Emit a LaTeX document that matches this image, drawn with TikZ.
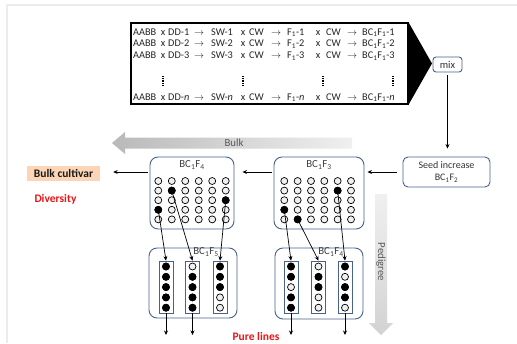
\documentclass[tikz,border=0pt]{standalone}
\usepackage{fontspec}
\setmainfont{Carlito}
\usetikzlibrary{arrows.meta}
\definecolor{boxc}{RGB}{72,98,138}
\definecolor{peach}{RGB}{251,213,181}
\definecolor{myred}{RGB}{232,22,22}
\tikzset{
  tt/.style={font=\fontsize{10.3}{12}\selectfont, inner sep=0pt, text=black!85},
  rbox/.style={draw=boxc, line width=0.9pt, rounded corners=8pt, fill=white, inner sep=0pt},
  oc/.style={circle, draw=black, fill=gray!12, line width=0.7pt, minimum size=7pt, inner sep=0pt},
  fc/.style={circle, draw=black, fill=black, line width=0.7pt, minimum size=7pt, inner sep=0pt},
  colbox/.style={draw=boxc, line width=0.8pt, fill=white, minimum width=14pt, minimum height=52pt, inner sep=0pt},
  arr/.style={-{Stealth[length=4.5pt,width=4pt]}, line width=0.7pt},
  lbl/.style={font=\fontsize{10.8}{12}\selectfont, text=black!75, inner sep=0pt},
  big/.style={font=\bfseries\fontsize{11.5}{13}\selectfont, inner sep=0pt},
  vdots/.style={line width=1.3pt, dash pattern=on 0.9pt off 0.9pt},
}
\begin{document}
\begin{tikzpicture}[x=1pt,y=-1pt]
\useasboundingbox (0,0) rectangle (517,343);
\fill[white] (0,0) rectangle (517,343);
\draw[gray!15, line width=2pt] (6.5,343) -- (6.5,4.5) -- (517,4.5);

% shaded arrows
\shade[left color=gray!55, right color=gray!12] (352,137.5) -- (125,137.5) -- (125,132) -- (112,143) -- (125,154) -- (125,148.5) -- (352,148.5) -- cycle;
\node[lbl, text=black!65] (bulk) at (234,143) {Bulk};
\shade[top color=gray!12, bottom color=gray!35] (375,194) -- (387,194) -- (387,323) -- (393,323) -- (381,335) -- (369,323) -- (375,323) -- cycle;
\node[lbl, text=black!65, rotate=-90] (ped) at (381,262) {Pedigree};

% top box
\node[draw, line width=1.2pt, minimum width=277pt, minimum height=81pt, inner sep=0pt] (top) at (269.5,63.5) {};
\fill (top.north east) -- (432,63.5) -- (top.south east) -- cycle;
\foreach \r/\yy/\s in {1/35/1, 2/46.8/2, 3/58.6/3, n/100/{\textit{n}}}{
  \node[tt, anchor=base west] (r\r a) at (133,\yy) {AABB};
  \node[tt, anchor=base] (r\r b) at (163,\yy) {x};
  \node[tt, anchor=base west] (r\r c) at (168,\yy) {DD-\s};
  \node[tt, anchor=base] (r\r d) at (199,\yy) {$\rightarrow$};
  \node[tt, anchor=base west] (r\r e) at (211,\yy) {SW-\s};
  \node[tt, anchor=base] (r\r f) at (243,\yy) {x};
  \node[tt, anchor=base west] (r\r g) at (249,\yy) {CW};
  \node[tt, anchor=base] (r\r h) at (276,\yy) {$\rightarrow$};
  \node[tt, anchor=base west] (r\r i) at (287,\yy) {F\textsubscript{1}-\s};
  \node[tt, anchor=base] (r\r j) at (318,\yy) {x};
  \node[tt, anchor=base west] (r\r k) at (326,\yy) {CW};
  \node[tt, anchor=base] (r\r l) at (352,\yy) {$\rightarrow$};
  \node[tt, anchor=base west] (r\r m) at (362,\yy) {BC\textsubscript{1}F\textsubscript{1}-\s};
}
\foreach \xx in {163,243,323,393}{
  \draw[vdots] (\xx,76) -- (\xx,86);
}

% mix and seed
\node[rbox, rounded corners=3pt, minimum width=29pt, minimum height=15pt, font=\fontsize{10.5}{12}\selectfont, text=black!80] (mix) at (447.5,64.5) {mix};
\node[rbox, rounded corners=5pt, minimum width=87pt, minimum height=30pt, align=center, font=\fontsize{10}{12.5}\selectfont, text=black!80] (seed) at (446.5,172) {Seed increase\\BC\textsubscript{1}F\textsubscript{2}};
\draw[arr, shorten <=3pt, shorten >=8pt] (mix.south) -- (mix.south |- seed.north);

% generation boxes
\node[rbox, minimum width=90pt, minimum height=72pt] (f3) at (319,193) {};
\node[rbox, minimum width=84pt, minimum height=72pt] (f4) at (192,193) {};
\node[lbl] (f3t) at (319,165) {BC\textsubscript{1}F\textsubscript{3}};
\node[lbl] (f4t) at (192,165) {BC\textsubscript{1}F\textsubscript{4}};
\node[rbox, minimum width=88pt, minimum height=70pt] (b5) at (193,283) {};
\node[rbox, minimum width=88pt, minimum height=71pt] (b4) at (319,283.5) {};
\node[lbl] (b5t) at (206,252) {BC\textsubscript{1}F\textsubscript{5}};
\node[lbl] (b4t) at (331,252) {BC\textsubscript{1}F\textsubscript{4}};

% side labels
\node[fill=peach, minimum width=73pt, minimum height=15pt, big, text=black!90] (bc) at (63.5,173.5) {Bulk cultivar};
\node[big, text=myred] (div) at (55.5,199) {Diversity};
\node[big, text=myred] (pure) at (256,337) {Pure lines};

% horizontal arrows
\draw[arr, shorten <=6pt, shorten >=3pt] (seed.west) -- (seed.west -| f3.east);
\draw[arr, shorten <=2pt, shorten >=8pt] (f3.west |- seed.west) -- (f4.east |- seed.west);
\draw[arr, shorten <=2pt, shorten >=13pt] (f4.west |- seed.west) -- (bc.east |- seed.west);

% grids
\foreach \i in {0,...,5}{
  \foreach \j in {0,...,4}{
    \node[oc] (pa\i\j) at (158.3+13.48*\i, 181+9.6*\j) {};
    \node[oc] (pb\i\j) at (284.3+13.34*\i, 181+9.6*\j) {};
  }
}
\foreach \i/\j in {1/1,5/2,0/3}{ \node[fc] (qa\i\j) at (pa\i\j) {}; }
\foreach \i/\j in {4/1,0/3,1/4}{ \node[fc] (qb\i\j) at (pb\i\j) {}; }

% column boxes
\foreach \c/\xx in {1/166,2/192.5,3/220}{
  \node[colbox] (cl\c) at (\xx,287) {};
  \foreach \k in {0,...,4}{ \node[oc] (cl\c-\k) at (\xx,266.5+10.3*\k) {}; }
}
\foreach \c/\xx in {1/291,2/318.5,3/345}{
  \node[colbox] (cr\c) at (\xx,287) {};
  \foreach \k in {0,...,4}{ \node[oc] (cr\c-\k) at (\xx,266.5+10.3*\k) {}; }
}
\foreach \c/\k in {1/0,1/1,1/2,1/3,1/4,2/1,2/2,2/3,2/4,3/0,3/1,3/2}{ \node[fc] (fl\c\k) at (cl\c-\k) {}; }
\foreach \c/\k in {1/0,1/1,1/3,1/4,2/1,2/2,3/0,3/2,3/3}{ \node[fc] (fr\c\k) at (cr\c-\k) {}; }

% selection arrows
\draw[arr] (qa03.center) -- (cl1.north);
\draw[arr] (qa11.center) -- (cl2.north);
\draw[arr] (qa52.center) -- (cl3.north);
\draw[arr] (qb03.center) -- (cr1.north);
\draw[arr] (qb14.center) -- (cr2.north);
\draw[arr] (qb41.center) -- (cr3.north);

% down arrows
\coordinate (d1) at (166,335);
\coordinate (d2) at (192.5,335);
\coordinate (d3) at (291,335);
\coordinate (d4) at (345,335);
\draw[arr] (cl1.south) -- (d1);
\draw[arr] (cl2.south) -- (d2);
\draw[arr] (cr1.south) -- (d3);
\draw[arr] (cr3.south) -- (d4);
\end{tikzpicture}
\end{document}
